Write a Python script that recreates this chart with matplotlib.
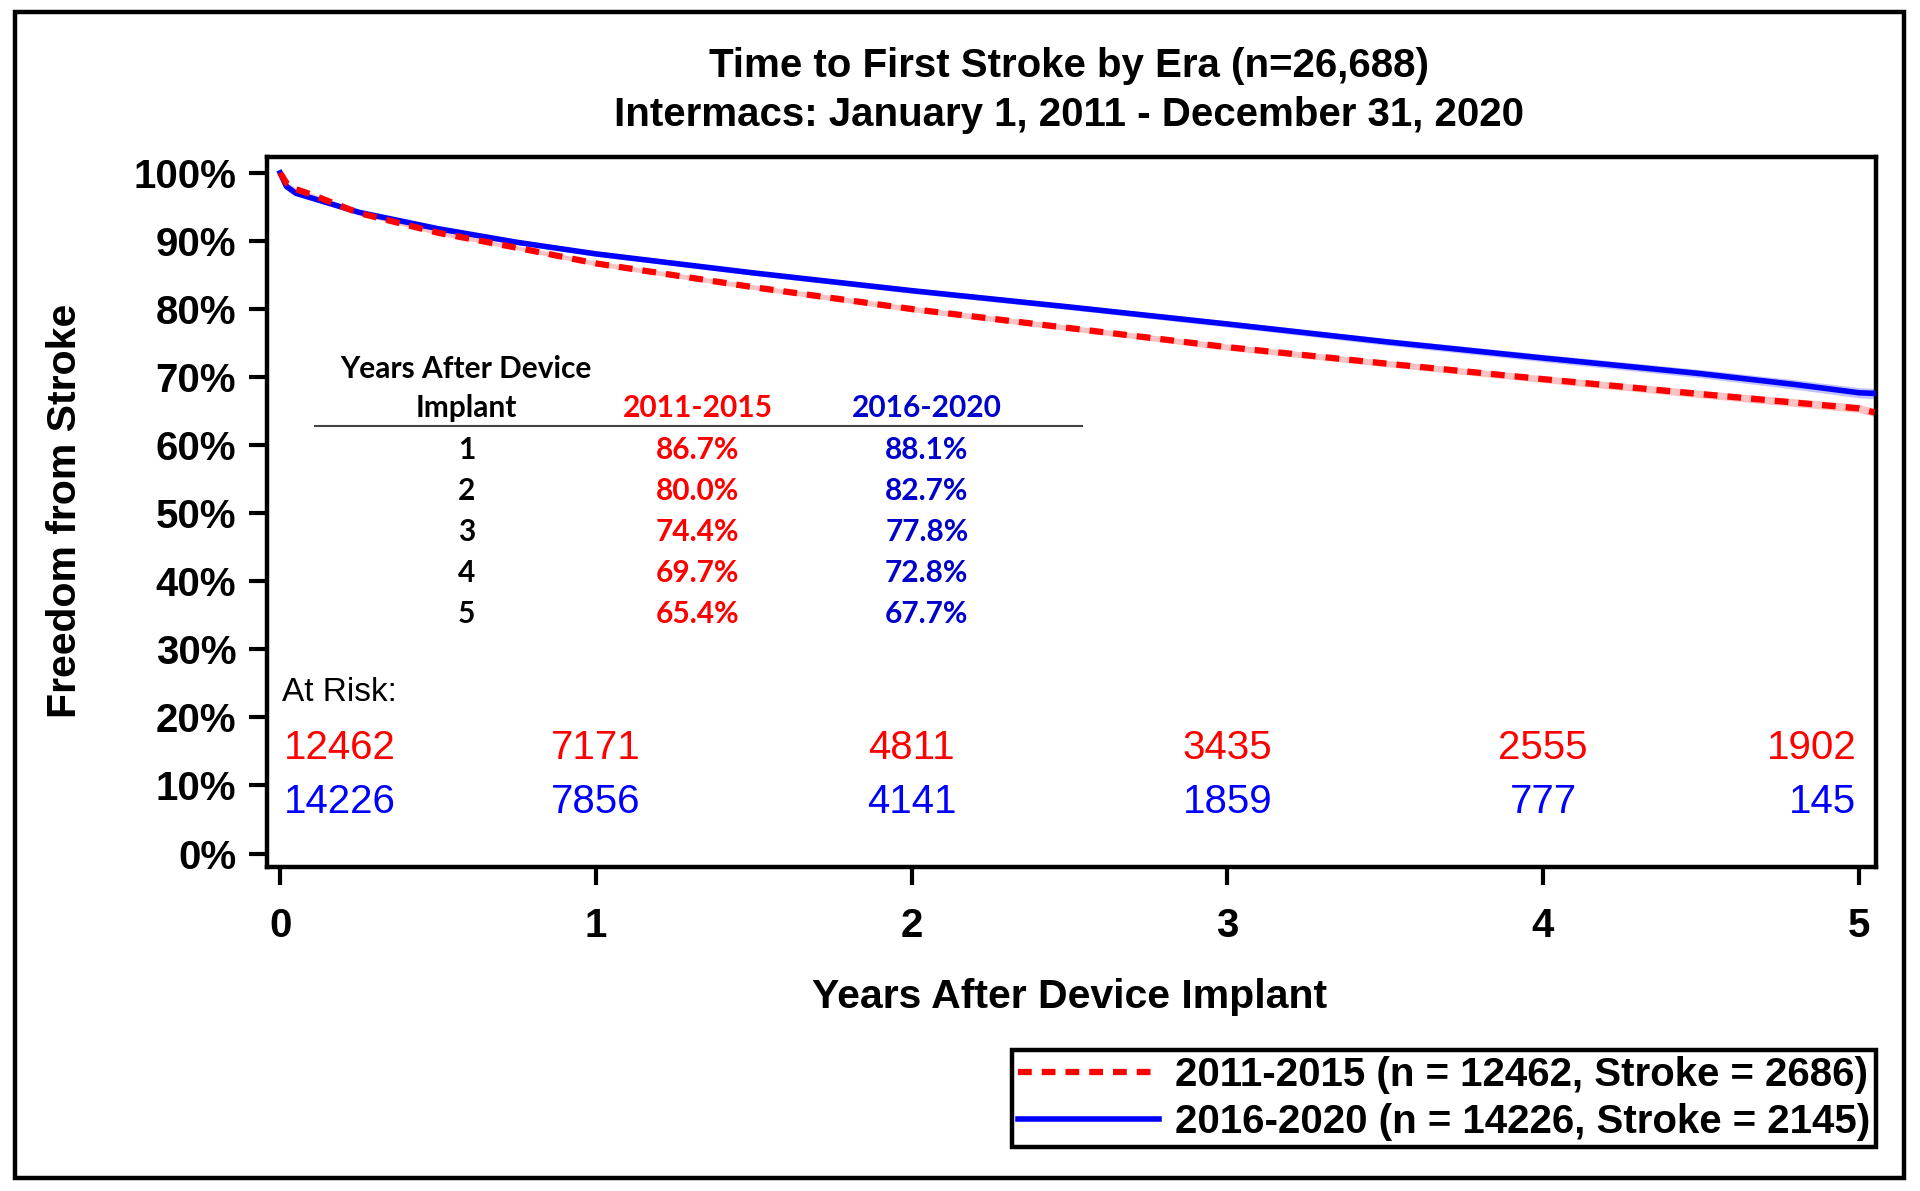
import matplotlib
matplotlib.use('Agg')
import matplotlib.pyplot as plt
from matplotlib.patches import Rectangle

plt.rcParams['font.family'] = ['Liberation Sans', 'DejaVu Sans']

# curve values (years, freedom from stroke %)
yrs_red = [0, 0.02, 0.05, 0.1, 0.25, 0.5, 0.75, 1, 1.5, 2, 2.5, 3, 3.5, 4, 4.5, 5, 5.05]
pct_red = [100, 98.5, 97.6, 96.8, 94.1, 91.2, 89.0, 86.7, 83.2, 80.0, 77.2, 74.4, 72.0, 69.7, 67.5, 65.4, 64.8]
ci_red = [0, 0.2, 0.2, 0.2, 0.25, 0.3, 0.3, 0.35, 0.35, 0.4, 0.4, 0.45, 0.45, 0.5, 0.55, 0.6, 0.6]

yrs_blue = [0, 0.02, 0.05, 0.1, 0.25, 0.5, 0.75, 1, 1.5, 2, 2.5, 3, 3.5, 4, 4.5, 4.8, 5, 5.05]
pct_blue = [100, 98.0, 97.0, 96.3, 94.2, 91.8, 89.8, 88.1, 85.3, 82.7, 80.3, 77.8, 75.2, 72.8, 70.5, 68.9, 67.7, 67.6]
ci_blue = [0, 0.2, 0.2, 0.2, 0.25, 0.3, 0.3, 0.35, 0.35, 0.4, 0.4, 0.45, 0.5, 0.55, 0.6, 0.7, 0.75, 0.75]

# summary table
tab_years = ['1', '2', '3', '4', '5']
tab_red = ['86.7%', '80.0%', '74.4%', '69.7%', '65.4%']
tab_blue = ['88.1%', '82.7%', '77.8%', '72.8%', '67.7%']

# numbers at risk
risk_x = [0, 1, 2, 3, 4, 5]
risk_red = [12462, 7171, 4811, 3435, 2555, 1902]
risk_blue = [14226, 7856, 4141, 1859, 777, 145]

lab_red = '2011-2015 (n = 12462, Stroke = 2686)'
lab_blue = '2016-2020 (n = 14226, Stroke = 2145)'

fig = plt.figure(figsize=(19.2, 11.91), dpi=100)
ax = fig.add_axes([0.139, 0.272, 0.838, 0.596])

lo = [p - c for p, c in zip(pct_red, ci_red)]
hi = [p + c for p, c in zip(pct_red, ci_red)]
ax.fill_between(yrs_red, lo, hi, color='#ffb3b3', lw=0, alpha=0.8)
lo = [p - c for p, c in zip(pct_blue, ci_blue)]
hi = [p + c for p, c in zip(pct_blue, ci_blue)]
ax.fill_between(yrs_blue, lo, hi, color='#b3b3ff', lw=0, alpha=0.8)

ax.plot(yrs_blue, pct_blue, color='#0000ff', lw=4, label=lab_blue, zorder=3)
ax.plot(yrs_red, pct_red, color='#ff0000', lw=4.5, ls=(0, (2.2, 1.6)), label=lab_red, zorder=4)

ax.set_xlim(-0.042, 5.054)
ax.set_ylim(-1.98, 102.3)
ax.set_xticks(range(6))
ax.set_yticks(range(0, 101, 10))
ax.set_yticklabels([f'{v}%' for v in range(0, 101, 10)])
ax.tick_params(axis='both', direction='out', length=13, width=3, labelsize=29)
ax.tick_params(axis='y', pad=9)
ax.tick_params(axis='x', pad=16)
for lbl in ax.get_xticklabels() + ax.get_yticklabels():
    lbl.set_fontweight('bold')
for s in ax.spines.values():
    s.set_linewidth(3.2)

# at risk rows
ax.text(0.005, 23.7, 'At Risk:', fontsize=24, va='center', ha='left')
for i, x in enumerate(risk_x):
    ha = 'left' if i == 0 else ('right' if i == len(risk_x) - 1 else 'center')
    xx = x + 0.012 if i == 0 else (x - 0.008 if i == len(risk_x) - 1 else x)
    ax.text(xx, 15.45, str(risk_red[i]), color='#ff0000', fontsize=29, ha=ha, va='center')
    ax.text(xx, 7.55, str(risk_blue[i]), color='#0000ff', fontsize=29, ha=ha, va='center')

# table
tf = ['Lato', 'DejaVu Sans']
fs = 21.5
ax.text(0.59, 71.2, 'Years After Device', family=tf, weight='bold', fontsize=fs, ha='center', va='center')
ax.text(0.59, 65.4, 'Implant', family=tf, weight='bold', fontsize=fs, ha='center', va='center')
ax.text(1.323, 65.4, '2011-2015', family=tf, weight='bold', fontsize=fs, ha='center', va='center', color='#ff0000')
ax.text(2.048, 65.4, '2016-2020', family=tf, weight='bold', fontsize=fs, ha='center', va='center', color='#0000cc')
ax.plot([0.109, 2.541], [62.8, 62.8], color='#444444', lw=1.5)
row_y = [59.3, 53.2, 47.3, 41.2, 35.2]
for y, a, b, c in zip(row_y, tab_years, tab_red, tab_blue):
    ax.text(0.59, y, a, family=tf, weight='bold', fontsize=fs, ha='center', va='center')
    ax.text(1.323, y, b, family=tf, weight='bold', fontsize=fs, ha='center', va='center', color='#ff0000')
    ax.text(2.048, y, c, family=tf, weight='bold', fontsize=fs, ha='center', va='center', color='#0000cc')

fig.text(0.557, 0.9445, 'Time to First Stroke by Era (n=26,688)', fontsize=29, weight='bold', ha='center', va='center')
fig.text(0.557, 0.9034, 'Intermacs: January 1, 2011 - December 31, 2020', fontsize=29, weight='bold', ha='center', va='center')
fig.text(0.557, 0.1625, 'Years After Device Implant', fontsize=29.5, weight='bold', ha='center', va='center')
fig.text(0.034, 0.571, 'Freedom from Stroke', fontsize=29.5, weight='bold', ha='center', va='center', rotation=90)

h, l = ax.get_legend_handles_labels()
leg = fig.legend(h[::-1], l[::-1], loc='lower right', bbox_to_anchor=(0.977, 0.037),
                 fancybox=False, edgecolor='black', framealpha=1, borderaxespad=0,
                 prop={'weight': 'bold', 'size': 29}, handlelength=3.5, handletextpad=0.4,
                 labelspacing=0.24, borderpad=0.14)
leg.get_frame().set_linewidth(3.2)

fig.patches.append(Rectangle((0.0078, 0.011), 0.984, 0.979, transform=fig.transFigure,
                             fill=False, edgecolor='black', lw=3.2))

fig.savefig('out.png', dpi=100)
